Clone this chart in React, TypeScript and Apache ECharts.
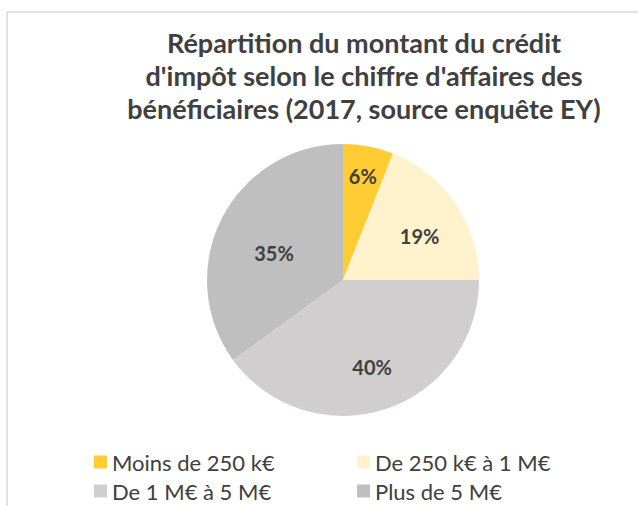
import React, { useEffect, useRef } from 'react';
import * as echarts from 'echarts';

const categories = ['Moins de 250 k€', 'De 250 k€ à 1 M€', 'De 1 M€ à 5 M€', 'Plus de 5 M€'];
const shares = [6, 19, 40, 35];
const titleLines = [
  'Répartition du montant du crédit',
  "d'impôt selon le chiffre d'affaires des",
  'bénéficiaires (2017, source enquête EY)',
];
const legendLeftColumn = [categories[0], categories[2]];
const legendRightColumn = [categories[1], categories[3]];

const COLORS = ['#FFCC33', '#FFF2CC', '#D0CECE', '#BFBFBF'];
const LABEL_DIST = [103, 86, 88, 71];
const LABEL_SHIFT = [[0, 0], [3, 6], [1, 0], [-3, 7]];
const CENTER = [343, 280];
const RADIUS = 136;
const FONT = 'Lato, "Open Sans", sans-serif';
const TEXT = '#404040';

export default function App() {
  const ref = useRef<HTMLDivElement>(null);
  useEffect(() => {
    if (!ref.current) return;
    const chart = echarts.init(ref.current, undefined, { renderer: 'svg' });
    const pieData = categories.map((name, i) => ({
      name,
      value: shares[i],
      itemStyle: { color: COLORS[i] },
    }));
    const labelSeries = categories.map((_, k) => ({
      type: 'pie' as const,
      center: CENTER,
      radius: [0, LABEL_DIST[k] * 2],
      silent: true,
      startAngle: 90,
      clockwise: true,
      z: 5,
      data: categories.map((name, i) => ({
        name,
        value: shares[i],
        itemStyle: { color: 'rgba(0,0,0,0)' },
        label: { show: i === k },
      })),
      label: {
        position: 'inside',
        formatter: (p: any) => `${p.value}%`,
        color: TEXT,
        fontFamily: FONT,
        fontWeight: 'bold',
        fontSize: 20,
      },
      labelLayout: { dx: LABEL_SHIFT[k][0], dy: LABEL_SHIFT[k][1] },
      labelLine: { show: false },
      emphasis: { disabled: true },
    }));
    const legendCommon = {
      orient: 'vertical' as const,
      top: 451,
      padding: 0,
      icon: 'rect',
      itemWidth: 13,
      itemHeight: 13,
      itemGap: 7,
      selectedMode: false,
      textStyle: { color: TEXT, fontFamily: FONT, fontSize: 22, lineHeight: 20 },
    };
    chart.setOption({
      animation: false,
      backgroundColor: '#ffffff',
      legend: [
        { ...legendCommon, left: 94, data: legendLeftColumn },
        { ...legendCommon, left: 357, data: legendRightColumn },
      ],
      graphic: [
        {
          type: 'rect',
          shape: { x: 7, y: 12, width: 800, height: 700 },
          style: { fill: 'none', stroke: '#D9D9D9', lineWidth: 1.5 },
          silent: true,
        },
        {
          type: 'text',
          x: 364,
          y: 26,
          style: {
            text: titleLines.join('\n'),
            fill: TEXT,
            font: `bold 27px ${FONT}`,
            lineHeight: 33,
            align: 'center',
            verticalAlign: 'top',
          },
        },
      ],
      series: [
        {
          type: 'pie',
          center: CENTER,
          radius: [0, RADIUS],
          startAngle: 90,
          clockwise: true,
          data: pieData,
          label: { show: false },
          labelLine: { show: false },
          emphasis: { disabled: true },
        },
        ...labelSeries,
      ],
    });
    return () => chart.dispose();
  }, []);
  return (
    <div
      ref={ref}
      style={{ position: 'absolute', left: 0, top: 0, width: 638, height: 506 }}
    />
  );
}
